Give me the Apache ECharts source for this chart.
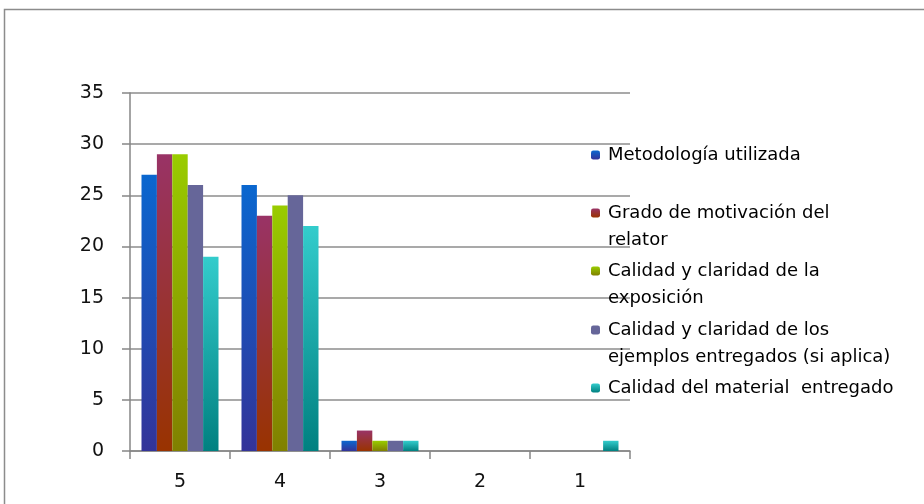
<!DOCTYPE html>
<html>
<head>
<meta charset="utf-8">
<script src="https://cdn.jsdelivr.net/npm/echarts@6/dist/echarts.min.js"></script>
<style>
  html, body { margin: 0; padding: 0; background: #fff; }
  #chart { width: 924px; height: 504px; }
</style>
</head>
<body>
<div id="chart"></div>
<script>
// Rating categories (5 = best)
const categories = ['5', '4', '3', '2', '1'];

// Number of responses per rating, one array per evaluated aspect
const metodologia = [27, 26, 1, 0, 0];
const motivacion  = [29, 23, 2, 0, 0];
const exposicion  = [29, 24, 1, 0, 0];
const ejemplos    = [26, 25, 1, 0, 0];
const material    = [19, 22, 1, 0, 1];

const seriesNames = [
  'Metodología utilizada',
  'Grado de motivación del relator',
  'Calidad y claridad de la exposición',
  'Calidad y claridad de los ejemplos entregados (si aplica)',
  'Calidad del material  entregado'
];
// Wrapped legend labels (one array entry per line)
const legendLines = [
  ['Metodología utilizada'],
  ['Grado de motivación del', 'relator'],
  ['Calidad y claridad de la', 'exposición'],
  ['Calidad y claridad de los', 'ejemplos entregados (si aplica)'],
  ['Calidad del material  entregado']
];
const seriesValues = [metodologia, motivacion, exposicion, ejemplos, material];

const yTicks = { min: 0, max: 35, interval: 5 };

// Top/bottom colours of each bar's vertical gradient
const gradients = [
  ['#0a67cf', '#333399'],
  ['#993366', '#993300'],
  ['#99cc00', '#808000'],
  ['#666699', '#666699'],
  ['#33cccc', '#008080']
];

const FONT = 'DejaVu Sans';
const grad = (c) => new echarts.graphic.LinearGradient(0, 0, 0, 1, [
  { offset: 0, color: c[0] }, { offset: 1, color: c[1] }
]);

// Vertical centre of each legend icon, and legend text line height
const legendCenters = [155, 213, 271, 330, 388];
const LH = 27;

// The legend icon sits at the vertical middle of its text block, so a
// two-line label gets a blank leading line to keep the icon on line one.
const legends = seriesNames.map((name, i) => {
  const lines = legendLines[i];
  const text = lines.length > 1 ? [' '].concat(lines).join('\n') : lines[0];
  const nLines = lines.length > 1 ? 3 : 1;
  return {
    show: true,
    orient: 'vertical',
    left: 591,
    top: legendCenters[i] - nLines * LH / 2,
    padding: 0,
    itemWidth: 9,
    itemHeight: 9,
    itemGap: 0,
    data: [name],
    selectedMode: false,
    formatter: () => text,
    textStyle: {
      fontFamily: FONT,
      fontSize: 18,
      color: '#000',
      lineHeight: LH,
      padding: [0, 0, 0, 3]
    }
  };
});

const chart = echarts.init(document.getElementById('chart'), null, { renderer: 'canvas' });
chart.setOption({
  animation: false,
  backgroundColor: '#fff',
  graphic: [{
    type: 'rect',
    shape: { x: 4.5, y: 9.5, width: 1000, height: 600 },
    style: { fill: 'none', stroke: '#8c8c8c', lineWidth: 1.5 },
    silent: true
  }],
  legend: legends,
  grid: { left: 130, right: 294, top: 93, bottom: 53, containLabel: false },
  xAxis: {
    type: 'category',
    data: categories,
    axisLine: { show: true, lineStyle: { color: '#868686', width: 1.5 } },
    axisTick: { show: true, length: 8, lineStyle: { color: '#868686', width: 1.5 } },
    axisLabel: { fontFamily: FONT, fontSize: 19, color: '#111', margin: 22 },
    splitLine: { show: false }
  },
  yAxis: {
    type: 'value',
    min: yTicks.min,
    max: yTicks.max,
    interval: yTicks.interval,
    axisLine: { show: true, lineStyle: { color: '#868686', width: 1.5 } },
    axisTick: { show: true, length: 8, lineStyle: { color: '#868686', width: 1.5 } },
    axisLabel: { fontFamily: FONT, fontSize: 19, color: '#111', margin: 26 },
    splitLine: { show: true, lineStyle: { color: '#8c8c8c', width: 1.5 } }
  },
  series: seriesNames.map((name, i) => ({
    name: name,
    type: 'bar',
    data: seriesValues[i],
    barGap: '0%',
    barCategoryGap: '23%',
    itemStyle: { color: grad(gradients[i]) },
    emphasis: { disabled: true }
  }))
});
</script>
</body>
</html>
